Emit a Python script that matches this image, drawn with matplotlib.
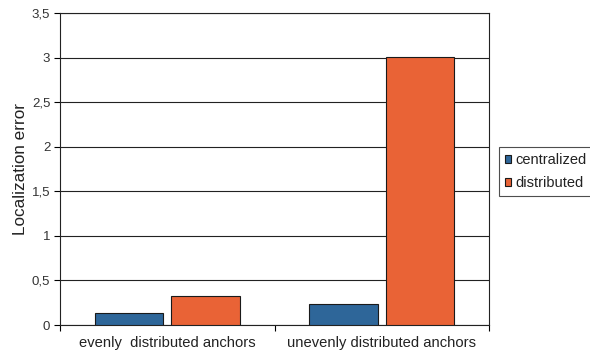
import numpy as np
import matplotlib.pyplot as plt

plt.rcParams['font.family'] = ['Liberation Sans', 'DejaVu Sans']

categories = ['evenly  distributed anchors', 'unevenly distributed anchors']
centralized = [0.14, 0.24]
distributed = [0.32, 3.01]
yticks = [0, 0.5, 1, 1.5, 2, 2.5, 3, 3.5]
ytick_labels = ['0', '0,5', '1', '1,5', '2', '2,5', '3', '3,5']

fig = plt.figure(figsize=(5.9, 3.52), dpi=100)
ax = fig.add_axes([60 / 590, 1 - 325 / 352, 429 / 590, 312 / 352])

x = np.arange(len(categories))
w = 0.32
off = 0.1785
ax.bar(x - off, centralized, w, color='#2E6699', edgecolor='#1a1a1a', linewidth=0.8,
       label='centralized', zorder=3)
ax.bar(x + off, distributed, w, color='#E96336', edgecolor='#1a1a1a', linewidth=0.8,
       label='distributed', zorder=3)

ax.set_xlim(-0.5, 1.5)
ax.set_ylim(0, 3.5)
ax.set_yticks(yticks)
ax.set_yticklabels(ytick_labels, fontsize=9.5, color='#333333')
ax.yaxis.grid(True, color='#222222', linewidth=0.8, zorder=0)

ax.set_xticks(x)
ax.set_xticklabels(categories, fontsize=10.6, color='#222222')
ax.tick_params(axis='x', which='major', length=0, pad=8)
ax.set_xticks([-0.5, 0.5, 1.5], minor=True)
ax.tick_params(axis='x', which='minor', length=4, width=0.8)
ax.tick_params(axis='y', length=4, width=0.8, pad=3)

for s in ax.spines.values():
    s.set_linewidth(0.8)
    s.set_color('#222222')

ax.set_ylabel('Localization error', fontsize=12.3, labelpad=3, color='#222222')

leg = fig.legend(loc='upper left', bbox_to_anchor=(499 / 590, 1 - 147 / 352),
                 fontsize=10.5, frameon=True, fancybox=False, edgecolor='#222222',
                 handlelength=0.45, handleheight=0.45, handletextpad=0.25,
                 borderpad=0.4, labelspacing=0.65, borderaxespad=0)
leg.get_frame().set_linewidth(0.8)
for t in leg.get_texts():
    t.set_color('#222222')

fig.savefig('out.png', dpi=100)
